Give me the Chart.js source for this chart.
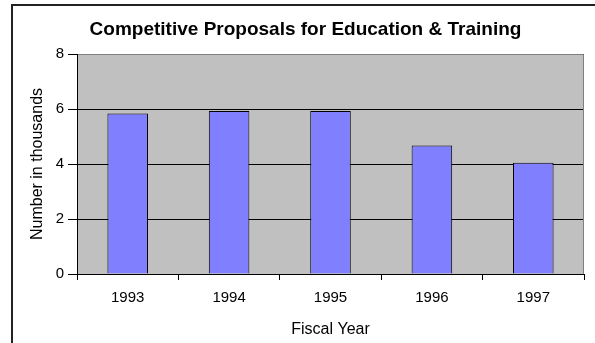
<!DOCTYPE html>
<html lang="en">
<head>
    <meta charset="UTF-8">
    <title>Competitive Proposals for Education & Training</title>
    <script src="https://cdn.jsdelivr.net/npm/chart.js"></script>
    <style>
        body { margin: 0; background: #fff; }
    </style>
</head>
<body>
    <canvas id="proposalsChart" width="595" height="343"></canvas>
    <script>
        // dados (milhares)
        const years = ['1993', '1994', '1995', '1996', '1997'];
        const proposals = [5.84, 5.93, 5.93, 4.67, 4.05];
        const yTicks = [0, 2, 4, 6, 8];

        const FONT = 'Arial, "Liberation Sans", sans-serif';

        // fundo cinza da área do gráfico e moldura externa
        const frame = {
            id: 'frame',
            beforeDraw(chart) {
                const ctx = chart.ctx;
                const a = chart.chartArea;
                ctx.save();
                ctx.fillStyle = '#fff';
                ctx.fillRect(0, 0, chart.width, chart.height);
                ctx.strokeStyle = '#222';
                ctx.lineWidth = 2;
                ctx.strokeRect(12, 5, chart.width + 20, chart.height + 20);
                ctx.fillStyle = '#C0C0C0';
                ctx.fillRect(a.left, a.top, a.right - a.left, a.bottom - a.top);
                ctx.restore();
            },
            afterDraw(chart) {
                const ctx = chart.ctx;
                const a = chart.chartArea;
                ctx.save();
                ctx.strokeStyle = '#808080';
                ctx.lineWidth = 1;
                ctx.beginPath();
                ctx.moveTo(a.left + 1, a.top + 0.5);
                ctx.lineTo(a.right - 0.5, a.top + 0.5);
                ctx.lineTo(a.right - 0.5, a.bottom);
                ctx.stroke();
                ctx.restore();
            }
        };

        const ctx = document.getElementById('proposalsChart').getContext('2d');
        new Chart(ctx, {
            type: 'bar',
            data: {
                labels: years,
                datasets: [{
                    data: proposals,
                    backgroundColor: '#8080FF',
                    borderColor: '#000',
                    borderWidth: 1,
                    categoryPercentage: 1,
                    barPercentage: 0.4
                }]
            },
            options: {
                responsive: false,
                animation: false,
                layout: { padding: { left: 27, right: 11, top: 0, bottom: 0 } },
                plugins: {
                    legend: { display: false },
                    tooltip: { enabled: false },
                    title: {
                        display: true,
                        text: 'Competitive Proposals for Education & Training',
                        color: '#000',
                        font: { family: FONT, size: 19, weight: 'bold' },
                        padding: { top: 18, bottom: 13.2 }
                    }
                },
                scales: {
                    x: {
                        afterFit(scale) { scale.height = 69; },
                        grid: {
                            drawOnChartArea: false,
                            drawTicks: true,
                            tickLength: 6,
                            tickColor: '#000'
                        },
                        border: { color: '#000', width: 1 },
                        ticks: {
                            color: '#000',
                            padding: 9,
                            maxRotation: 0,
                            font: { family: FONT, size: 15 }
                        },
                        title: {
                            display: true,
                            text: 'Fiscal Year',
                            color: '#000',
                            font: { family: FONT, size: 16 },
                            padding: { top: 0, bottom: 4 }
                        }
                    },
                    y: {
                        min: 0,
                        max: 8,
                        afterFit(scale) { scale.width = 50; },
                        afterBuildTicks(scale) {
                            scale.ticks = yTicks.map(v => ({ value: v }));
                        },
                        grid: {
                            color: '#000',
                            lineWidth: 1,
                            tickLength: 9,
                            tickColor: '#000'
                        },
                        border: { color: '#000', width: 1 },
                        ticks: {
                            color: '#000',
                            padding: 4,
                            font: { family: FONT, size: 15 }
                        },
                        title: {
                            display: true,
                            text: 'Number in thousands',
                            color: '#000',
                            font: { family: FONT, size: 16 },
                            padding: { top: 1, bottom: 0 }
                        }
                    }
                }
            },
            plugins: [frame]
        });
    </script>
</body>
</html>
